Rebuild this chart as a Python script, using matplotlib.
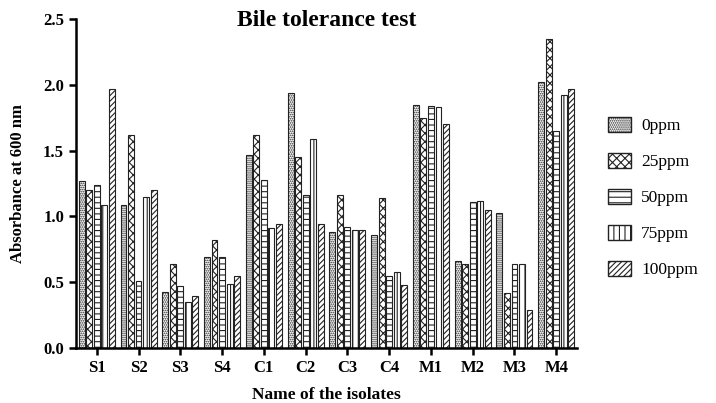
import numpy as np
import matplotlib.pyplot as plt
from matplotlib.patches import Patch

plt.rcParams['font.family'] = ['Liberation Serif', 'DejaVu Serif']
plt.rcParams['hatch.linewidth'] = 0.8

isolates = ["S1", "S2", "S3", "S4", "C1", "C2", "C3", "C4", "M1", "M2", "M3", "M4"]
series_names = ["0ppm", "25ppm", "50ppm", "75ppm", "100ppm"]
ppm0 = [1.27, 1.09, 0.43, 0.69, 1.47, 1.94, 0.88, 0.86, 1.85, 0.66, 1.03, 2.02]
ppm25 = [1.20, 1.62, 0.64, 0.82, 1.62, 1.45, 1.16, 1.14, 1.75, 0.64, 0.42, 2.35]
ppm50 = [1.24, 0.51, 0.47, 0.69, 1.28, 1.16, 0.92, 0.55, 1.84, 1.11, 0.64, 1.65]
ppm75 = [1.09, 1.15, 0.35, 0.49, 0.91, 1.59, 0.90, 0.58, 1.83, 1.12, 0.64, 1.92]
ppm100 = [1.97, 1.20, 0.40, 0.55, 0.94, 0.94, 0.90, 0.48, 1.70, 1.05, 0.29, 1.97]
series = [ppm0, ppm25, ppm50, ppm75, ppm100]
# 0ppm fine dots, 25ppm dark checker-like, 50 horizontal, 75 vertical, 100 diagonal
hatches = ['........', 'xxxx', '---', '|||', '//////']

fig = plt.figure(figsize=(7.16, 4.03), dpi=100)
ax = fig.add_axes([0.106, 0.136, 0.70, 0.817])

x = np.arange(len(isolates))
w = 0.14
step = 0.18
for k, vals in enumerate(series):
    ax.bar(x + (k - 2) * step, vals, width=w, color='white', edgecolor='#222222',
           linewidth=0.8, hatch=hatches[k])

ax.set_ylim(0, 2.5)
ax.set_xlim(-0.5, len(isolates) - 0.5)
ax.set_yticks([0.0, 0.5, 1.0, 1.5, 2.0, 2.5])
ax.set_yticklabels(["0.0", "0.5", "1.0", "1.5", "2.0", "2.5"], fontweight='bold', fontsize=12)
ax.set_xticks(x)
ax.set_xticklabels(isolates, fontweight='bold', fontsize=12)
for s in ['top', 'right']:
    ax.spines[s].set_visible(False)
for s in ['left', 'bottom']:
    ax.spines[s].set_linewidth(1.8)
ax.tick_params(width=1.8, length=5)

ax.text(0.5, 0.995, "Bile tolerance test", transform=ax.transAxes, ha='center', va='center',
        fontweight='bold', fontsize=17)
ax.set_ylabel("Absorbance at 600 nm", fontweight='bold', fontsize=12, labelpad=12)
ax.set_xlabel("Name of the isolates", fontweight='bold', fontsize=12.5, labelpad=8)

handles = [Patch(facecolor='white', edgecolor='#222222', hatch=h, label=n)
           for h, n in zip(hatches, series_names)]
fig.legend(handles=handles, loc='center left', bbox_to_anchor=(0.84, 0.51), frameon=False,
           fontsize=12.5, handlelength=1.3, handleheight=1.0, labelspacing=1.05,
           handletextpad=0.6, borderaxespad=0.0)

fig.savefig("out.png", dpi=100)
